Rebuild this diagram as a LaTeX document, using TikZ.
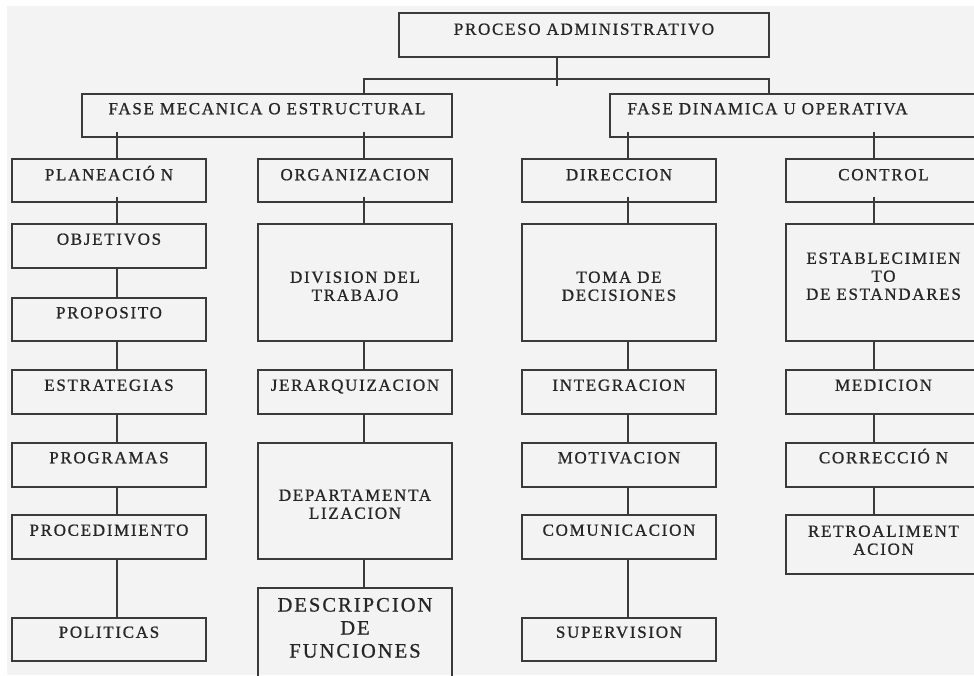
\documentclass[tikz,border=0pt]{standalone}
\usepackage{fontspec}
\setmainfont{Liberation Serif}[LetterSpace=10,FakeBold=0.9]
\usetikzlibrary{calc}
\definecolor{bg}{HTML}{F3F3F3}
\definecolor{ln}{HTML}{3A3A3A}
\definecolor{tx}{HTML}{262626}
\tikzset{
  box/.style={draw=ln, line width=1.3pt, rectangle, inner sep=0pt},
  lab/.style={inner sep=0pt, align=center, font=\fontsize{17}{18}\selectfont, text height=11.2pt, text=tx},
  big/.style={font=\fontsize{20.5}{23}\selectfont, text height=13.5pt},
  conn/.style={draw=ln, line width=1.3pt},
}
% [label opts]{name}{x1}{y1}{x2}{y2}{offset of last line's cap top}{text}
\newcommand\bx[8][]{%
  \node[box, minimum width={(#5-#3)*1pt}, minimum height={(#6-#4)*1pt},
    label={[lab,#1,name=#2-t,anchor=north,yshift={-#7pt}]north:{#8}}] (#2) at ({(#3+#5)/2},{(#4+#6)/2}) {};}
\begin{document}
\begin{tikzpicture}[x=1pt,y=-1pt]
\useasboundingbox (0,0) rectangle (974,675);
\clip (0,0) rectangle (974,675);
\fill[white] (0,0) rectangle (974,675);
\fill[bg] (7,6) rectangle (974,675);

% top levels
\bx{top}{399}{13}{769}{57}{11}{PROCESO ADMINISTRATIVO}
\bx{fm}{82}{94}{452}{137}{9.5}{FASE MECANICA O ESTRUCTURAL}
\bx[xshift=-30pt]{fd}{610}{94}{985}{137}{9.5}{FASE DINAMICA U OPERATIVA}

% level 2
\bx{pl}{12}{159}{206}{202}{10.5}{PLANEACIÓ N}
\bx{org}{258}{159}{452}{202}{10.5}{ORGANIZACION}
\bx{dir}{522}{159}{716}{202}{10.5}{DIRECCION}
\bx{ctl}{786}{159}{981}{202}{10.5}{CONTROL}

% column 1
\bx{ob}{12}{224}{206}{268}{10}{OBJETIVOS}
\bx{pr}{12}{298}{206}{341}{9.5}{PROPOSITO}
\bx{es}{12}{370}{206}{414}{10}{ESTRATEGIAS}
\bx{pg}{12}{443}{206}{487}{9.5}{PROGRAMAS}
\bx{pc}{12}{515}{206}{559}{10}{PROCEDIMIENTO}
\bx{po}{12}{618}{206}{661}{9}{POLITICAS}

% column 2
\bx{dv}{258}{224}{452}{341}{66}{DIVISION DEL\\TRABAJO}
\bx{je}{258}{370}{452}{414}{10}{JERARQUIZACION}
\bx{dp}{258}{443}{452}{559}{65}{DEPARTAMENTA\\LIZACION}
\bx[big]{ds}{258}{588}{452}{680}{56.5}{DESCRIPCION\\DE\\FUNCIONES}

% column 3
\bx{tm}{522}{224}{716}{341}{66}{TOMA DE\\DECISIONES}
\bx{in}{522}{370}{716}{414}{10}{INTEGRACION}
\bx{mo}{522}{443}{716}{487}{9.5}{MOTIVACION}
\bx{co}{522}{515}{716}{559}{10}{COMUNICACION}
\bx{su}{522}{618}{716}{661}{9}{SUPERVISION}

% column 4
\bx{est}{786}{224}{981}{341}{65}{ESTABLECIMIEN\\TO\\DE ESTANDARES}
\bx{me}{786}{370}{981}{414}{10}{MEDICION}
\bx{cr}{786}{443}{981}{487}{9.5}{CORRECCIÓ N}
\bx{re}{786}{515}{981}{574}{29}{RETROALIMENT\\ACION}

% connector columns
\coordinate (c1) at (117,0);
\coordinate (c2) at (364,0);
\coordinate (c3) at (628,0);
\coordinate (c4) at (874,0);
\coordinate (stem) at (557,86);
\coordinate (barL) at (364,79);
\coordinate (barR) at (769,79);

\draw[conn] (top.south -| stem) -- (stem);
\draw[conn] (fm.north -| barL) -- (barL) -- (barR) -- (fd.north -| barR);

\draw[conn] ($(fm.south -| c1)+(0,-6)$) -- (pl.north -| c1);
\draw[conn] ($(fm.south -| c2)+(0,-6)$) -- (org.north -| c2);
\draw[conn] ($(fd.south -| c3)+(0,-6)$) -- (dir.north -| c3);
\draw[conn] ($(fd.south -| c4)+(0,-6)$) -- (ctl.north -| c4);

\draw[conn] ($(pl.south -| c1)+(0,-6)$) -- (ob.north -| c1);
\draw[conn] (ob.south -| c1) -- (pr.north -| c1);
\draw[conn] (pr.south -| c1) -- (es.north -| c1);
\draw[conn] (es.south -| c1) -- (pg.north -| c1);
\draw[conn] (pg.south -| c1) -- (pc.north -| c1);
\draw[conn] (pc.south -| c1) -- (po.north -| c1);

\draw[conn] ($(org.south -| c2)+(0,-6)$) -- (dv.north -| c2);
\draw[conn] (dv.south -| c2) -- (je.north -| c2);
\draw[conn] (je.south -| c2) -- (dp.north -| c2);
\draw[conn] (dp.south -| c2) -- (ds.north -| c2);

\draw[conn] ($(dir.south -| c3)+(0,-6)$) -- (tm.north -| c3);
\draw[conn] (tm.south -| c3) -- (in.north -| c3);
\draw[conn] (in.south -| c3) -- (mo.north -| c3);
\draw[conn] (mo.south -| c3) -- (co.north -| c3);
\draw[conn] (co.south -| c3) -- (su.north -| c3);

\draw[conn] ($(ctl.south -| c4)+(0,-6)$) -- (est.north -| c4);
\draw[conn] (est.south -| c4) -- (me.north -| c4);
\draw[conn] (me.south -| c4) -- (cr.north -| c4);
\draw[conn] (cr.south -| c4) -- (re.north -| c4);
\end{tikzpicture}
\end{document}
